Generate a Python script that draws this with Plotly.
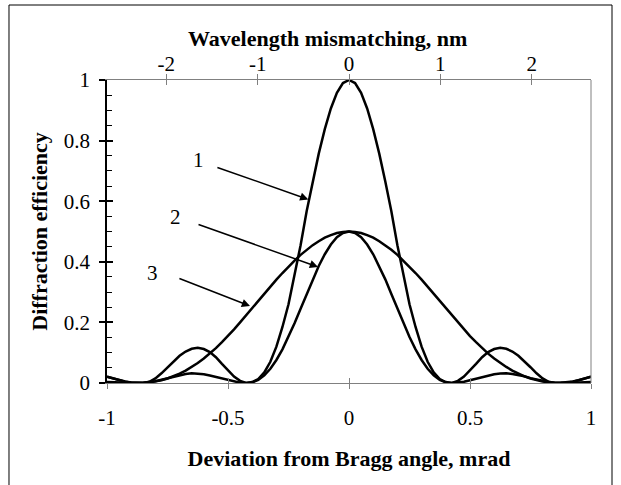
import plotly.graph_objects as go

# Angular deviation from the Bragg angle, mrad
deviation = [
    -1.0, -0.975, -0.95, -0.925, -0.9, -0.875, -0.85, -0.825, -0.8, -0.775,
    -0.75, -0.725, -0.7, -0.675, -0.65, -0.625, -0.6, -0.575, -0.55, -0.525,
    -0.5, -0.475, -0.45, -0.425, -0.4, -0.375, -0.35, -0.325, -0.3, -0.275,
    -0.25, -0.225, -0.2, -0.175, -0.15, -0.125, -0.1, -0.075, -0.05, -0.025,
    0.0,
    0.025, 0.05, 0.075, 0.1, 0.125, 0.15, 0.175, 0.2, 0.225, 0.25,
    0.275, 0.3, 0.325, 0.35, 0.375, 0.4, 0.425, 0.45, 0.475, 0.5,
    0.525, 0.55, 0.575, 0.6, 0.625, 0.65, 0.675, 0.7, 0.725, 0.75,
    0.775, 0.8, 0.825, 0.85, 0.875, 0.9, 0.925, 0.95, 0.975, 1.0,
]

# Curve 1: full-efficiency grating
efficiency_1 = [
    0.021, 0.015, 0.009, 0.005, 0.002, 0.001, 0.0, 0.004, 0.015, 0.032,
    0.052, 0.072, 0.090, 0.104, 0.113, 0.116, 0.112, 0.102, 0.085, 0.063,
    0.041, 0.021, 0.007, 0.0, 0.003, 0.013, 0.035, 0.070, 0.120, 0.185,
    0.260, 0.355, 0.455, 0.567, 0.665, 0.757, 0.838, 0.906, 0.958, 0.990,
    1.0,
    0.990, 0.958, 0.906, 0.838, 0.757, 0.665, 0.567, 0.455, 0.355, 0.260,
    0.185, 0.120, 0.070, 0.035, 0.013, 0.003, 0.0, 0.007, 0.021, 0.041,
    0.063, 0.085, 0.102, 0.112, 0.116, 0.113, 0.104, 0.090, 0.072, 0.052,
    0.032, 0.015, 0.004, 0.0, 0.001, 0.002, 0.005, 0.009, 0.015, 0.021,
]

# Curve 2: half-efficiency grating, same thickness
efficiency_2 = [
    0.003, 0.002, 0.001, 0.001, 0.0, 0.0, 0.001, 0.003, 0.006, 0.011,
    0.016, 0.022, 0.027, 0.030, 0.032, 0.031, 0.029, 0.025, 0.020, 0.014,
    0.009, 0.004, 0.001, 0.0, 0.002, 0.010, 0.025, 0.047, 0.076, 0.111,
    0.152, 0.197, 0.245, 0.294, 0.342, 0.386, 0.425, 0.457, 0.481, 0.495,
    0.5,
    0.495, 0.481, 0.457, 0.425, 0.386, 0.342, 0.294, 0.245, 0.197, 0.152,
    0.111, 0.076, 0.047, 0.025, 0.010, 0.002, 0.0, 0.001, 0.004, 0.009,
    0.014, 0.020, 0.025, 0.029, 0.031, 0.032, 0.030, 0.027, 0.022, 0.016,
    0.011, 0.006, 0.003, 0.001, 0.0, 0.0, 0.001, 0.001, 0.002, 0.003,
]

# Curve 3: half-efficiency grating, thinner layer (wider angular response)
efficiency_3 = [
    0.021, 0.015, 0.009, 0.004, 0.001, 0.0, 0.001, 0.002, 0.005, 0.009,
    0.015, 0.022, 0.031, 0.041, 0.053, 0.066, 0.081, 0.097, 0.115, 0.135,
    0.155, 0.177, 0.200, 0.224, 0.248, 0.272, 0.295, 0.318, 0.341, 0.363,
    0.385, 0.404, 0.423, 0.440, 0.455, 0.468, 0.480, 0.488, 0.495, 0.498,
    0.5,
    0.498, 0.495, 0.488, 0.480, 0.468, 0.455, 0.440, 0.423, 0.404, 0.385,
    0.363, 0.341, 0.318, 0.295, 0.272, 0.248, 0.224, 0.200, 0.177, 0.155,
    0.135, 0.115, 0.097, 0.081, 0.066, 0.053, 0.041, 0.031, 0.022, 0.015,
    0.009, 0.005, 0.002, 0.001, 0.0, 0.001, 0.004, 0.009, 0.015, 0.021,
]

x_ticks = [-1, -0.5, 0, 0.5, 1]
x_tick_text = ["-1", "-0.5", "0", "0.5", "1"]
y_ticks = [0, 0.2, 0.4, 0.6, 0.8, 1]
y_tick_text = ["0", "0.2", "0.4", "0.6", "0.8", "1"]
wl_ticks = [-2, -1, 0, 1, 2]
wl_tick_text = ["-2", "-1", "0", "1", "2"]

# Curve labels: (text, label x, label y, arrow tail x, tail y, head x, head y)
curve_labels = [
    ("1", -0.62, 0.736, -0.55, 0.713, -0.168, 0.606),
    ("2", -0.715, 0.548, -0.628, 0.525, -0.128, 0.383),
    ("3", -0.81, 0.363, -0.707, 0.347, -0.409, 0.254),
]

SERIF = "Liberation Serif"
GRAY = "#808080"

fig = go.Figure()
for series in (efficiency_1, efficiency_2, efficiency_3):
    fig.add_trace(go.Scatter(
        x=deviation, y=series, mode="lines",
        line=dict(color="black", width=2.5),
        showlegend=False, hoverinfo="skip",
    ))

tick_font = dict(family=SERIF, size=21, color="black")
title_font = dict(family=SERIF, size=22, color="black")

fig.update_layout(
    width=621, height=485,
    margin=dict(l=107, r=30, t=80, b=102),
    paper_bgcolor="white", plot_bgcolor="white",
    font=dict(family=SERIF, color="black"),
    xaxis=dict(
        range=[-1, 1], tickvals=x_ticks, ticktext=x_tick_text,
        showgrid=False, zeroline=False,
        showline=True, linecolor=GRAY, linewidth=1,
        ticks="outside", ticklen=5, tickcolor=GRAY, tickwidth=1,
        tickfont=tick_font, ticklabelstandoff=11,
        title=dict(text="<b>Deviation from Bragg angle, mrad</b>",
                   font=title_font, standoff=21),
    ),
    xaxis2=dict(
        range=[-1, 1], tickvals=x_ticks, overlaying="x", side="bottom",
        showgrid=False, zeroline=False, showticklabels=False,
        ticks="inside", ticklen=5, tickcolor=GRAY, tickwidth=1,
    ),
    xaxis3=dict(
        range=[-2.65, 2.65], tickvals=wl_ticks, ticktext=wl_tick_text,
        overlaying="x", side="top", anchor="y",
        showgrid=False, zeroline=False,
        showline=True, linecolor=GRAY, linewidth=1, mirror=False,
        ticks="outside", ticklen=5, tickcolor=GRAY, tickwidth=1,
        tickfont=tick_font, ticklabelstandoff=-5,
    ),
    xaxis4=dict(
        range=[-2.65, 2.65], tickvals=wl_ticks, overlaying="x", side="top",
        anchor="y",
        showgrid=False, zeroline=False, showticklabels=False,
        ticks="inside", ticklen=5, tickcolor=GRAY, tickwidth=1,
    ),
    yaxis=dict(
        range=[0, 1], tickvals=y_ticks, ticktext=y_tick_text,
        showgrid=False, zeroline=False,
        showline=True, linecolor="black", linewidth=1.5,
        ticks="outside", ticklen=6, tickcolor="black", tickwidth=1.5,
        tickfont=tick_font, ticklabelstandoff=5,
        title=dict(text="<b>Diffraction efficiency</b>", font=title_font,
                   standoff=10),
    ),
    yaxis2=dict(
        range=[0, 1], tickvals=y_ticks, overlaying="y", side="left",
        anchor="x",
        showgrid=False, zeroline=False, showticklabels=False,
        ticks="inside", ticklen=6, tickcolor="black", tickwidth=1.5,
        minor=dict(dtick=0.05, ticks="inside", ticklen=5,
                   tickcolor="black", tickwidth=1),
    ),
)

# Invisible helper traces so the overlaid tick axes are drawn
fig.add_trace(go.Scatter(x=[None], y=[None], xaxis="x2", yaxis="y2",
                         showlegend=False, hoverinfo="skip"))
fig.add_trace(go.Scatter(x=[None], y=[None], xaxis="x3", yaxis="y",
                         showlegend=False, hoverinfo="skip"))
fig.add_trace(go.Scatter(x=[None], y=[None], xaxis="x4", yaxis="y",
                         showlegend=False, hoverinfo="skip"))

# Title of the upper (wavelength) axis
fig.add_annotation(xref="paper", yref="paper", x=0.4566, y=1.1386,
                   text="<b>Wavelength mismatching, nm</b>", showarrow=False,
                   xanchor="center", yanchor="middle", font=title_font)

# Right edge of the plotting area
fig.add_shape(type="line", xref="paper", yref="paper",
              x0=1, x1=1, y0=0, y1=1, line=dict(color=GRAY, width=1))

# Thin frame around the whole figure
fig.add_shape(type="rect", xref="paper", yref="paper",
              x0=-0.2025, x1=1.0434, y0=-0.36, y1=1.2475,
              line=dict(color="black", width=1), layer="below")

for text, lx, ly, tx, ty, hx, hy in curve_labels:
    fig.add_annotation(x=lx, y=ly, xref="x", yref="y", text=text,
                       showarrow=False,
                       font=dict(family=SERIF, size=21, color="black"))
    fig.add_annotation(x=hx, y=hy, ax=tx, ay=ty, xref="x", yref="y",
                       axref="x", ayref="y", text="", showarrow=True,
                       arrowhead=2, arrowsize=1.1, arrowwidth=1.5,
                       arrowcolor="black", standoff=0)

fig.write_html("out.html")
